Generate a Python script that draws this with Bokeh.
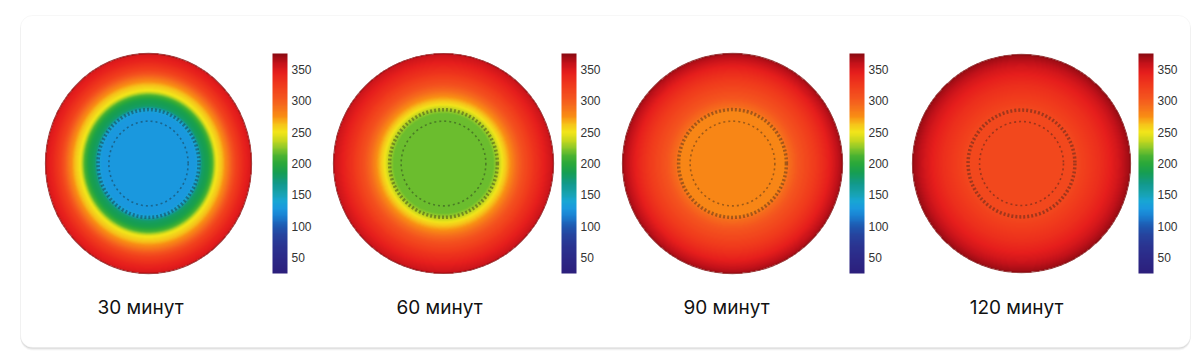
import numpy as np
from bokeh.plotting import figure
from bokeh.models import Range1d, LinearColorMapper, ColorBar, FixedTicker, BoxAnnotation
from bokeh.core.properties import value
from bokeh.embed import file_html
from bokeh.resources import INLINE

# ---------------- data ----------------
labels = ["30 минут", "60 минут", "90 минут", "120 минут"]
ticks = [50, 100, 150, 200, 250, 300, 350]
t_low, t_high = 25, 375

# radial temperature profiles (fraction of radius -> temperature)
r_30 = [0.0, 0.45, 0.49, 0.52, 0.58, 0.62, 0.66, 0.72, 0.77, 0.85, 0.93, 1.0]
t_30 = [128, 128, 140, 178, 190, 212, 248, 265, 285, 320, 340, 352]

r_60 = [0.0, 0.45, 0.50, 0.54, 0.60, 0.66, 0.73, 0.83, 0.92, 1.0]
t_60 = [218, 218, 234, 252, 272, 292, 310, 330, 345, 358]

r_90 = [0.0, 0.47, 0.52, 0.58, 0.68, 0.78, 0.88, 0.95, 1.0]
t_90 = [278, 278, 292, 302, 315, 328, 344, 358, 368]

r_120 = [0.0, 0.50, 0.60, 0.70, 0.80, 0.88, 0.95, 1.0]
t_120 = [314, 314, 323, 331, 342, 352, 363, 371]

profiles = [(r_30, t_30), (r_60, t_60), (r_90, t_90), (r_120, t_120)]

# colour scale anchors
cmap_values = [25, 50, 70, 85, 100, 115, 128, 140, 152, 168, 185, 200, 212, 225, 237, 250, 262, 275, 290, 305, 325, 345, 360, 375]
cmap_colors = ["#2c1f7c", "#2c2a88", "#2a3592", "#26439e", "#1e58b0", "#1a7ed0", "#1a98de", "#18a6d4",
               "#17a2b0", "#12998a", "#169e52", "#2aa83a", "#4ab232", "#8cc82a", "#c8d81e", "#f2e51a",
               "#f6c41a", "#f98e14", "#f6701c", "#f4541e", "#f03a1c", "#e61e1c", "#c4121a", "#8c0a12"]

# ---------------- layout / style ----------------
centers_x = [148, 443, 732, 1021]
center_y = 163
radius_x = [103, 110, 110, 109]
radius_y = [110, 110, 110, 109]
bar_x = [272, 561, 849, 1138]
label_x = [140, 439, 726, 1016]
ring_inner, ring_outer = 0.385, 0.49


def hex_to_rgb(h):
    h = h.lstrip("#")
    return np.array([int(h[i:i + 2], 16) for i in (0, 2, 4)], dtype=float)


rgb = np.array([hex_to_rgb(c) for c in cmap_colors])
vals = np.linspace(t_low, t_high, 256)
palette = []
for v in vals:
    c = [np.interp(v, cmap_values, rgb[:, k]) for k in range(3)]
    palette.append("#%02x%02x%02x" % tuple(int(round(x)) for x in c))

mapper = LinearColorMapper(palette=palette, low=t_low, high=t_high, nan_color="rgba(0,0,0,0)")

p = figure(width=1200, height=360, x_range=Range1d(0, 1200), y_range=Range1d(360, 0),
           output_backend="svg", toolbar_location=None, min_border=0)
p.axis.visible = False
p.grid.visible = False
p.outline_line_color = None
p.background_fill_color = "white"
p.border_fill_color = "white"

# card with shadow
for off, a in [(3, 0.03), (2, 0.05), (1, 0.07)]:
    p.add_layout(BoxAnnotation(left=20, right=1190, top=15 + off, bottom=347 + off,
                               fill_color="black", fill_alpha=a, line_color=None,
                               border_radius=12, level="underlay"))
p.add_layout(BoxAnnotation(left=20, right=1190, top=15, bottom=347, fill_color="white", fill_alpha=1,
                           line_color="#e4e4e4", line_width=1, border_radius=12, level="underlay"))

for i, (rr_prof, tt_prof) in enumerate(profiles):
    cx, rx, ry = centers_x[i], radius_x[i], radius_y[i]
    sc = 3
    nx, ny = 2 * rx * sc, 2 * ry * sc
    xs = (np.arange(nx) + 0.5) / nx * 2 - 1
    ys = (np.arange(ny) + 0.5) / ny * 2 - 1
    X, Y = np.meshgrid(xs, ys)
    R = np.sqrt(X ** 2 + Y ** 2)
    img = np.interp(R, rr_prof, tt_prof)
    img[R > 1.0] = np.nan
    p.image(image=[img], x=cx - rx, y=center_y - ry, dw=2 * rx, dh=2 * ry, color_mapper=mapper)
    # rings
    p.ellipse(x=cx, y=center_y, width=2 * rx * ring_outer, height=2 * ry * ring_outer,
              fill_color=None, line_color="#1a1a1a", line_alpha=0.38, line_width=3.5, line_dash="2 2")
    p.ellipse(x=cx, y=center_y, width=2 * rx * ring_inner, height=2 * ry * ring_inner,
              fill_color=None, line_color="#1a1a1a", line_alpha=0.4, line_width=1.6, line_dash="2 3")
    # rim
    p.ellipse(x=cx, y=center_y, width=2 * rx, height=2 * ry, fill_color=None,
              line_color="#7a0a0a", line_alpha=0.6, line_width=1.3)
    cb = ColorBar(color_mapper=mapper, ticker=FixedTicker(ticks=ticks), location=(bar_x[i], 360 - 273),
                  width=15, height=220, padding=0, margin=0, label_standoff=4,
                  major_label_text_font_size="12px", major_label_text_font="Liberation Sans",
                  major_label_text_color="#333333", major_tick_line_color=None,
                  minor_tick_line_color=None, bar_line_color=None, border_line_color=None,
                  background_fill_alpha=0)
    p.add_layout(cb)

p.text(x=label_x, y=[307] * 4, text=labels, text_font=value("Inter"), text_font_size="19px",
       text_align="center", text_baseline="middle", text_color="#111111")

open("out.html", "w").write(file_html(p, INLINE))
